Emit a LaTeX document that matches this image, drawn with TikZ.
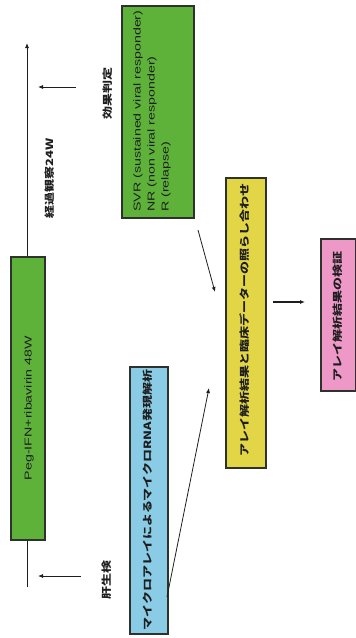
\documentclass[tikz,border=0pt]{standalone}
\usepackage{fontspec}
\setmainfont{Liberation Sans}
\newfontfamily\cjk{Noto Sans CJK JP}
\usetikzlibrary{arrows.meta}
\definecolor{boxgreen}{RGB}{94,178,58}
\definecolor{boxblue}{RGB}{138,204,230}
\definecolor{boxyellow}{RGB}{226,214,70}
\definecolor{boxpink}{RGB}{238,152,200}
\definecolor{edge}{RGB}{45,50,45}
\definecolor{ink}{RGB}{30,30,30}
\tikzset{
  box/.style={draw=edge, line width=1.5pt},
  vtext/.style={rotate=90, inner sep=0pt, text=ink},
  conn/.style={draw=ink, line width=0.8pt, -{Latex[length=5pt,width=4pt]}},
}
\newcommand{\jp}[1]{\scalebox{1.3}[1]{\cjk\bfseries\fontsize{10}{12}\selectfont #1}}
\newcommand{\lt}[1]{\scalebox{1.42}[1]{\fontsize{10}{11}\selectfont #1}}
\begin{document}
\begin{tikzpicture}[x=1pt,y=-1pt]
\useasboundingbox (0,0) rectangle (356,638);
% timeline
\coordinate (tlstart) at (27,587);
\coordinate (tlend) at (27,43);
\draw[conn] (tlstart) -- (tlend);
% Peg box
\node[box, fill=boxgreen, minimum width=34pt, minimum height=283pt, anchor=north west, inner sep=0pt] (peg) at (10,256) {};
\node[vtext] (pegtxt) at (29,408) {\lt{Peg-IFN+ribavirin 48W}};
% labels
\node[vtext] (kouka) at (108,93) {\jp{効果判定}};
\node[vtext] (keika) at (50,178) {\jp{経過観察24W}};
\node[vtext] (kansei) at (107,580) {\jp{肝生検}};
% small arrows
\coordinate (a1s) at (76,87); \coordinate (a1e) at (38,87);
\coordinate (a2s) at (81,576); \coordinate (a2e) at (38,576);
\draw[conn] (a1s) -- (a1e);
\draw[conn] (a2s) -- (a2e);
% SVR box
\node[box, fill=boxgreen, minimum width=72pt, minimum height=212pt, anchor=north west, inner sep=0pt] (svr) at (121,5) {};
\node[vtext, anchor=west] (l1) at (138,212) {\lt{SVR (sustained viral responder)}};
\node[vtext, anchor=west] (l2) at (152,212) {\lt{NR (non viral responder)}};
\node[vtext, anchor=west] (l3) at (166,212) {\lt{R (relapse)}};
% blue box
\node[box, fill=boxblue, minimum width=38pt, minimum height=267pt, anchor=north west, inner sep=0pt] (blue) at (129,366) {};
\node[vtext] (bluetxt) at (148,500) {\jp{マイクロアレイによるマイクロRNA発現解析}};
% yellow box
\node[box, fill=boxyellow, minimum width=40pt, minimum height=290pt, anchor=north west, inner sep=0pt] (yellow) at (225,177) {};
\node[vtext] (yeltxt) at (245,320) {\jp{アレイ解析結果と臨床データーの照らし合わせ}};
% pink box
\node[box, fill=boxpink, minimum width=35pt, minimum height=152pt, anchor=north west, inner sep=0pt] (pink) at (320,238) {};
\node[vtext] (pinktxt) at (338,316) {\jp{アレイ解析結果の検証}};
% connectors
\coordinate (c1s) at (198,230); \coordinate (c1e) at (215,292);
\coordinate (c2s) at (167,597); \coordinate (c2e) at (209,388);
\coordinate (c3s) at (273,302); \coordinate (c3e) at (305,302);
\draw[conn] (c1s) -- (c1e);
\draw[conn] (c2s) -- (c2e);
\draw[conn, line width=1.2pt] (c3s) -- (c3e);
\end{tikzpicture}
\end{document}
